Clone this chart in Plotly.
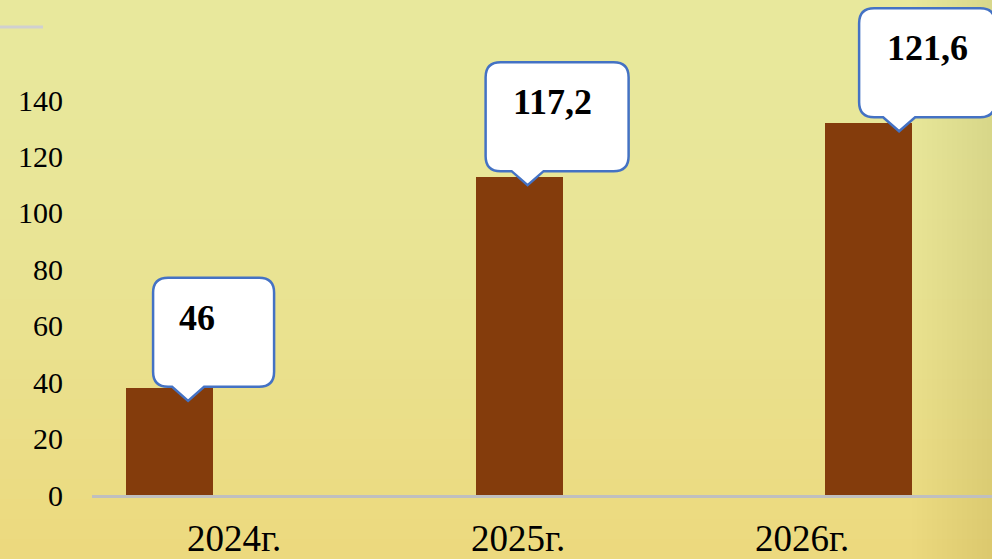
import plotly.graph_objects as go

# ---- data ----
categories = ["2024г.", "2025г.", "2026г."]
bar_values = [38.0, 112.7, 131.8]
callout_labels = ["46", "117,2", "121,6"]
y_tick_values = [0, 20, 40, 60, 80, 100, 120, 140]

# ---- layout constants (pixels) ----
W, H = 992, 559
ML, MR, MT, MB = 92, 0, 0, 64
PW, PH = W - ML - MR, H - MT - MB
XR = [-0.222, 2.353]
YR = [0, 175.5]
px_x = PW / (XR[1] - XR[0])   # px per category unit
px_y = PH / (YR[1] - YR[0])   # px per value unit

def dx(p):
    return p / px_x

def dy(p):
    return p / px_y

BAR = "#843C0C"
BORDER = "#4472C4"
SERIF = "Liberation Serif, Times New Roman, serif"

fig = go.Figure()
fig.add_trace(go.Bar(x=list(range(len(categories))), y=bar_values, width=0.249,
                     marker=dict(color=BAR, line=dict(width=0)),
                     hoverinfo="skip", showlegend=False))
# invisible trace to carry the category label axis
fig.add_trace(go.Scatter(x=list(range(len(categories))), y=[0] * len(categories),
                         xaxis="x2", mode="markers", marker=dict(opacity=0),
                         hoverinfo="skip", showlegend=False))

# callout geometry (px offsets relative to each bar top centre)
tip_dx = [18.5, 8.5, 30.5]
tip_dy = [13, 8, 8]
box_left = [-35, -42, -40]
box_w = [121, 143, 136]
text_dx = [-17, -5, 0]
box_h = 109
ptr_depth = 14
ptr_half = 16
rad = 15

shapes = []
annotations = []

# background gradient bands
top_c = (232, 232, 156)
bot_c = (236, 217, 126)
N = 28
y_top_paper = (PH + MT) / PH
y_bot_paper = -MB / PH
for i in range(N):
    t = i / (N - 1)
    c = tuple(int(round(top_c[k] + (bot_c[k] - top_c[k]) * t ** 1.6)) for k in range(3))
    y1 = y_top_paper - (y_top_paper - y_bot_paper) * i / N
    y0 = y_top_paper - (y_top_paper - y_bot_paper) * (i + 1) / N
    shapes.append(dict(type="rect", xref="paper", yref="paper", x0=-ML / PW, x1=1 + 0.01,
                       y0=y0 - 0.002, y1=y1, fillcolor="rgb(%d,%d,%d)" % c,
                       line=dict(width=0), layer="below"))
# right side subtle sheen
for i in range(16):
    shapes.append(dict(type="rect", xref="paper", yref="paper",
                       x0=1 - (80 - i * 5) / PW, x1=1.01, y0=y_bot_paper, y1=y_top_paper,
                       fillcolor="rgba(190,180,100,0.012)", line=dict(width=0), layer="below"))
# small decorative line top-left
shapes.append(dict(type="line", xref="paper", yref="paper", x0=-ML / PW, x1=(43 - ML) / PW,
                   y0=(PH - 27) / PH, y1=(PH - 27) / PH, line=dict(color="#D0D0D0", width=3),
                   layer="below"))

for i, v in enumerate(bar_values):
    tx = i + dx(tip_dx[i])
    ty = v - dy(tip_dy[i])
    bl = tx + dx(box_left[i])
    br = bl + dx(box_w[i])
    bb = ty + dy(ptr_depth)
    bt = bb + dy(box_h)
    rx, ry = dx(rad), dy(rad)
    pl, pr = tx - dx(ptr_half), tx + dx(ptr_half)
    path = (f"M {bl+rx},{bt} L {br-rx},{bt} Q {br},{bt} {br},{bt-ry} "
            f"L {br},{bb+ry} Q {br},{bb} {br-rx},{bb} "
            f"L {pr},{bb} L {tx},{ty} L {pl},{bb} "
            f"L {bl+rx},{bb} Q {bl},{bb} {bl},{bb+ry} "
            f"L {bl},{bt-ry} Q {bl},{bt} {bl+rx},{bt} Z")
    shapes.append(dict(type="path", path=path, xref="x", yref="y",
                       fillcolor="white", line=dict(color=BORDER, width=2.5), layer="above"))
    annotations.append(dict(x=(bl + br) / 2 + dx(text_dx[i]), y=bt - dy(40), xref="x", yref="y",
                            text="<b>%s</b>" % callout_labels[i], showarrow=False,
                            font=dict(family=SERIF, size=36, color="black"),
                            xanchor="center", yanchor="middle"))

fig.update_layout(
    width=W, height=H,
    margin=dict(l=ML, r=MR, t=MT, b=MB, pad=0),
    paper_bgcolor="#E8E89C", plot_bgcolor="rgba(0,0,0,0)",
    shapes=shapes, annotations=annotations,
    bargap=0,
    xaxis=dict(range=XR, showticklabels=False, showgrid=False, zeroline=False,
               showline=True, linecolor="#BFBFBF", linewidth=3, ticks="", fixedrange=True),
    xaxis2=dict(overlaying="x", side="bottom", range=[-0.5, 2.669],
                tickmode="array", tickvals=list(range(len(categories))), ticktext=categories,
                showgrid=False, zeroline=False, showline=False, ticks="",
                tickfont=dict(family=SERIF, size=37, color="black"), ticklabelstandoff=18),
    yaxis=dict(range=YR, tickmode="array", tickvals=y_tick_values,
               showgrid=False, zeroline=False, showline=False, ticks="",
               tickfont=dict(family=SERIF, size=30, color="black"), ticklabelstandoff=28),
)

fig.write_html("out.html", config={"displayModeBar": False},
               post_script="document.body.style.margin='0';document.body.style.padding='0';"
                           "document.body.style.overflow='hidden';")
